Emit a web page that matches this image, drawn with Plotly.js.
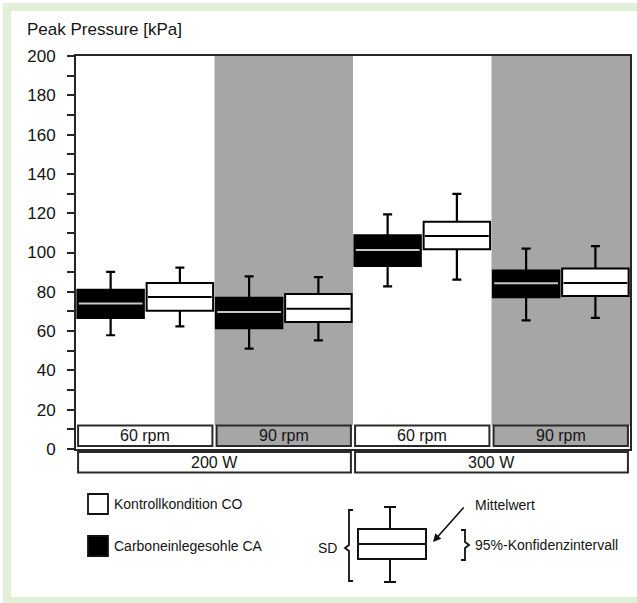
<!DOCTYPE html>
<html><head><meta charset="utf-8">
<script src="https://cdn.plot.ly/plotly-3.0.1.min.js"></script>
<style>
html,body{margin:0;padding:0;background:#fff;}
#frame{position:absolute;left:3px;top:3px;width:634px;height:600px;background:#e2efd9;}
#inner{position:absolute;left:11px;top:11px;width:626px;height:586px;background:#fff;}
#chart{position:absolute;left:0;top:0;width:637px;height:603px;}
</style></head><body>
<div id="frame"></div><div id="inner"></div><div id="chart"></div>
<script>
// ---- data ----
const rpmLabels = ['60 rpm', '90 rpm', '60 rpm', '90 rpm'];
const powerLabels = ['200 W', '300 W'];
// Carboneinlegesohle CA
const caMean   = [74.1, 69.7, 101.3, 84.3];
const caCiLow  = [66.7, 61.4, 93.1, 77.2];
const caCiHigh = [81.1, 77.0, 108.8, 90.8];
const caSdLow  = [57.9, 51.1, 82.8, 65.5];
const caSdHigh = [90.1, 87.9, 119.4, 102.0];
// Kontrollkondition CO
const coMean   = [77.4, 71.4, 108.4, 84.5];
const coCiLow  = [70.4, 64.6, 101.6, 77.9];
const coCiHigh = [84.5, 78.9, 115.7, 91.8];
const coSdLow  = [62.4, 55.3, 86.2, 66.7];
const coSdHigh = [92.3, 87.5, 129.8, 103.2];

// ---- layout helpers ----
const W = 637, H = 603;
const mL = 76, mR = 7, mT = 56, mB = 154;
const pw = W - mL - mR, ph = H - mT - mB;
const px = x => (x - mL) / pw;
const py = y => (H - mB - y) / ph;
const FONT = 'Liberation Sans, Arial, sans-serif';
const INK = '#141414';
const GREY = '#a6a6a6';
const BW = 0.48;

const idx = rpmLabels.map((_, i) => i);
const caX = idx.map(i => i + 0.25);
const coX = idx.map(i => i + 0.75);
const sub = (a, b) => a.map((v, i) => v - b[i]);
const zeros = idx.map(() => 0);

function medianLine(xs, ys) {
  const X = [], Y = [];
  xs.forEach((x, i) => { X.push(x - BW / 2 + 0.01, x + BW / 2 - 0.01, null); Y.push(ys[i], ys[i], null); });
  return { X, Y };
}
function boxTrace(xs, lo, hi, fill) {
  return { type: 'bar', x: xs, base: lo, y: sub(hi, lo), width: BW,
    marker: { color: fill, line: { color: '#000', width: 2 } }, hoverinfo: 'skip', showlegend: false };
}
// vertical whisker stems: from box edge to SD end
function stems(xs, a, b) {
  const X = [], Y = [];
  xs.forEach((x, i) => { X.push(x, x, null); Y.push(a[i], b[i], null); });
  return { type: 'scatter', mode: 'lines', x: X, y: Y, line: { color: '#000', width: 2.2 }, hoverinfo: 'skip', showlegend: false };
}
// caps: zero-length error bars at the SD ends
function caps(xs, y) {
  return { type: 'scatter', mode: 'markers', x: xs, y: y, marker: { size: 1, color: 'rgba(0,0,0,0)' },
    error_y: { type: 'data', array: zeros, color: '#000', thickness: 2.2, width: 4.5 },
    hoverinfo: 'skip', showlegend: false };
}
const caMed = medianLine(caX, caMean), coMed = medianLine(coX, coMean);

const traces = [
  boxTrace(caX, caCiLow, caCiHigh, '#000'),
  boxTrace(coX, coCiLow, coCiHigh, '#fff'),
  stems(caX, caCiHigh, caSdHigh), stems(caX, caCiLow, caSdLow),
  stems(coX, coCiHigh, coSdHigh), stems(coX, coCiLow, coSdLow),
  caps(caX, caSdHigh), caps(caX, caSdLow), caps(coX, coSdHigh), caps(coX, coSdLow),
  { type: 'scatter', mode: 'lines', x: caMed.X, y: caMed.Y, line: { color: '#c8c8c8', width: 2 }, hoverinfo: 'skip', showlegend: false },
  { type: 'scatter', mode: 'lines', x: coMed.X, y: coMed.Y, line: { color: '#000', width: 2 }, hoverinfo: 'skip', showlegend: false }
];

const shapes = [];
const annotations = [];
// shaded 90 rpm columns and rpm label boxes
rpmLabels.forEach((lab, i) => {
  const is90 = lab.indexOf('90') === 0;
  if (is90) shapes.push({ type: 'rect', xref: 'x', yref: 'y', x0: i, x1: i + 1, y0: 12, y1: 200, fillcolor: GREY, line: { width: 0 }, layer: 'below' });
  shapes.push({ type: 'rect', xref: 'x', yref: 'y', x0: i + 0.015, x1: i + 0.985, y0: 1.5, y1: 12,
    fillcolor: is90 ? GREY : '#fff', line: { color: '#2a2a2a', width: 2 }, layer: 'above' });
  annotations.push({ xref: 'x', yref: 'y', x: i + 0.5, y: 6.9, xanchor: 'center', yanchor: 'middle', text: lab, showarrow: false, font: { family: FONT, size: 16, color: INK } });
});
// power boxes below the axis
powerLabels.forEach((lab, j) => {
  shapes.push({ type: 'rect', xref: 'x', yref: 'paper', x0: 2 * j + 0.015, x1: 2 * j + 1.985, y0: py(452), y1: py(472.5),
    fillcolor: '#fff', line: { color: '#2a2a2a', width: 2 } });
  annotations.push({ xref: 'x', yref: 'paper', x: 2 * j + 1, y: py(462.5), xanchor: 'center', yanchor: 'middle', text: lab, showarrow: false, font: { family: FONT, size: 16, color: INK } });
});

// y-axis title
annotations.push({ xref: 'paper', yref: 'paper', x: px(25), y: py(30), xanchor: 'left', yanchor: 'middle', text: 'Peak Pressure [kPa]', showarrow: false, font: { family: FONT, size: 17, color: INK } });

// legend squares
const pRect = (x0, y0, x1, y1, fill, lw) => ({ type: 'rect', xref: 'paper', yref: 'paper', x0: px(x0), x1: px(x1), y0: py(y0), y1: py(y1), fillcolor: fill, line: { color: '#111', width: lw } });
const pLine = (x0, y0, x1, y1, lw) => ({ type: 'line', xref: 'paper', yref: 'paper', x0: px(x0), x1: px(x1), y0: py(y0), y1: py(y1), line: { color: '#111', width: lw } });
const pText = (x, y, t, anchor) => ({ xref: 'paper', yref: 'paper', x: px(x), y: py(y), xanchor: anchor || 'left', yanchor: 'middle', text: t, showarrow: false, font: { family: FONT, size: 14, color: INK } });
shapes.push(pRect(88, 494, 108, 514, '#fff', 1.8));
shapes.push(pRect(88, 536, 108, 556, '#000', 1.8));
annotations.push(pText(112, 504, 'Kontrollkondition CO'));
annotations.push(pText(112, 546, 'Carboneinlegesohle CA'));

// schematic box
shapes.push(pLine(390, 507, 390, 529, 2));
shapes.push(pLine(390, 559, 390, 582, 2));
shapes.push(pLine(384, 507, 396, 507, 2));
shapes.push(pLine(384, 582, 396, 582, 2));
shapes.push(pRect(358, 529, 426, 559, '#fff', 2));
shapes.push(pLine(358, 544, 426, 544, 2));
const path = pts => pts.map((p, k) => (k ? 'L' : 'M') + px(p[0]) + ',' + py(p[1])).join(' ');
shapes.push({ type: 'path', xref: 'paper', yref: 'paper', path: path([[353, 510], [349, 510], [349, 545], [345, 548], [349, 551], [349, 581], [353, 581]]), line: { color: '#111', width: 1.8 } });
shapes.push({ type: 'path', xref: 'paper', yref: 'paper', path: path([[461, 530], [465, 530], [465, 542], [469, 545], [465, 548], [465, 560], [461, 560]]), line: { color: '#111', width: 1.8 } });
annotations.push(pText(327, 548, 'SD', 'center'));
annotations.push(pText(473, 505, 'Mittelwert'));
annotations.push(pText(473, 545, '95%-Konfidenzintervall'));
annotations.push({ xref: 'paper', yref: 'paper', x: px(433), y: py(542), text: '', showarrow: true, ax: 32, ay: -36,
  arrowhead: 2, arrowsize: 1, arrowwidth: 1.6, arrowcolor: '#111', standoff: 0 });

const layout = {
  width: W, height: H,
  margin: { l: mL, r: mR, t: mT, b: mB, pad: 0 },
  paper_bgcolor: 'rgba(0,0,0,0)', plot_bgcolor: '#fff',
  barmode: 'overlay', showlegend: false,
  font: { family: FONT, color: INK },
  xaxis: { range: [0, 4], showgrid: false, zeroline: false, showticklabels: false, ticks: '',
    showline: true, mirror: true, linecolor: '#262626', linewidth: 2, fixedrange: true },
  yaxis: { range: [0, 200], tick0: 0, dtick: 20, ticks: 'outside', ticklen: 7, tickwidth: 2, tickcolor: '#262626',
    showline: true, mirror: true, linecolor: '#262626', linewidth: 2, showgrid: false, zeroline: false,
    ticklabelstandoff: 8, tickfont: { family: FONT, size: 17, color: INK },
    minor: { dtick: 10, ticks: 'outside', ticklen: 7, tickwidth: 2, tickcolor: '#262626', showgrid: false }, fixedrange: true },
  shapes: shapes, annotations: annotations
};
Plotly.newPlot('chart', traces, layout, { displayModeBar: false, staticPlot: true });
</script>
</body></html>
